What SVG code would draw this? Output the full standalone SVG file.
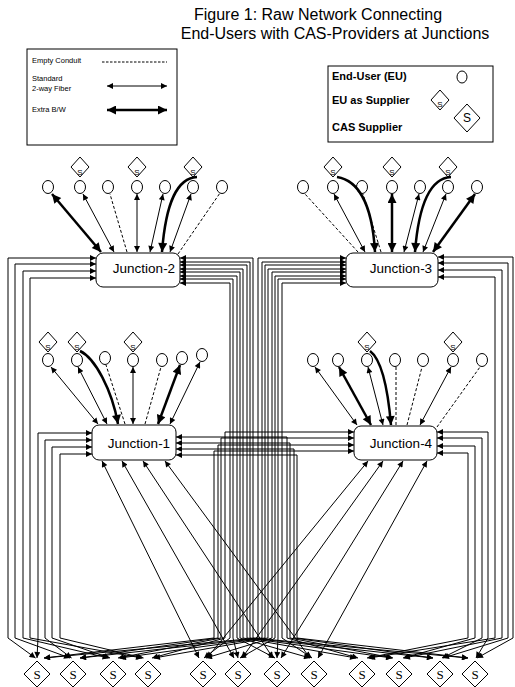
<svg xmlns="http://www.w3.org/2000/svg" width="515" height="687" viewBox="0 0 515 687">
<style>
.t{font-family:"Liberation Sans",Arial,sans-serif;fill:#000}
.nd{fill:#fff;stroke:#000;stroke-width:1}
.ln{fill:none;stroke:#000;stroke-width:1}
.b{marker-start:url(#a);marker-end:url(#a)}
.ds{stroke-dasharray:3 2}
.thk{stroke-width:2.5;marker-start:url(#A);marker-end:url(#A)}
.cur{stroke-width:2.5;marker-end:url(#A)}
.s8{font-size:8px}
.bs{font-family:"Liberation Serif","Times New Roman",serif;font-size:13px;text-anchor:middle}
.jt{font-size:13.5px;text-anchor:middle}
</style>
<defs>
<marker id="a" viewBox="0 0 10 10" refX="10" refY="5" markerWidth="7" markerHeight="6" markerUnits="userSpaceOnUse" orient="auto-start-reverse"><path d="M0,0 L10,5 L0,10 z"/></marker>
<marker id="A" viewBox="0 0 10 10" refX="10" refY="5" markerWidth="11" markerHeight="9" markerUnits="userSpaceOnUse" orient="auto-start-reverse"><path d="M0,0 L10,5 L0,10 z"/></marker>
<path id="sd" d="M0,-10 L9,0 L0,10 L-9,0 z"/>
<path id="bd" d="M0,-13 L13,0 L0,13 L-13,0 z"/>
</defs>

<g id="title">
<text class="t" x="318" y="20" font-size="16" text-anchor="middle">Figure 1:  Raw Network Connecting</text>
<text class="t" x="335" y="39" font-size="16" text-anchor="middle">End-Users with CAS-Providers at Junctions</text>
</g>

<g id="legend-lines">
<rect x="27" y="49" width="150" height="96" fill="none" stroke="#000"/>
<text class="t" x="32" y="63" font-size="7.5">Empty Conduit</text>
<path class="ln" d="M102,62 H167" stroke-dasharray="2.5 1.5"/>
<text class="t" x="32" y="81" font-size="7.5">Standard</text>
<text class="t" x="32" y="91" font-size="7.5">2-way Fiber</text>
<path class="ln b" d="M107,86 H167"/>
<text class="t" x="32" y="112" font-size="7.5">Extra B/W</text>
<path class="ln thk" d="M107,110 H167"/>
</g>

<g id="legend-nodes">
<rect x="328" y="66" width="165" height="76" fill="none" stroke="#000"/>
<text class="t" x="332" y="80" font-size="11" font-weight="bold">End-User (EU)</text>
<ellipse class="nd" cx="462" cy="77" rx="5" ry="6"/>
<text class="t" x="332" y="104" font-size="11" font-weight="bold">EU as Supplier</text>
<use href="#sd" x="440" y="100" class="nd"/>
<text class="t s8" x="440" y="107" text-anchor="middle">S</text>
<path class="nd" d="M467,104 L480,118 L467,132 L454,118 z"/>
<text class="t" x="467" y="122" font-size="12" text-anchor="middle">S</text>
<text class="t" x="332" y="131" font-size="11" font-weight="bold">CAS Supplier</text>
</g>

<g id="junction-2"><rect class="nd" x="96" y="253" width="84" height="34" rx="7"/><text class="t jt" x="144" y="273">Junction-2</text></g>
<g id="junction-3"><rect class="nd" x="346" y="253" width="92" height="34" rx="7"/><text class="t jt" x="401" y="273">Junction-3</text></g>
<g id="junction-1"><rect class="nd" x="92" y="425" width="84" height="35" rx="7"/><text class="t jt" x="139" y="448">Junction-1</text></g>
<g id="junction-4"><rect class="nd" x="354" y="426" width="83" height="34" rx="7"/><text class="t jt" x="401" y="448">Junction-4</text></g>

<g id="eu-j2">
<ellipse class="nd" cx="48" cy="187" rx="5.5" ry="6.5"/>
<ellipse class="nd" cx="80" cy="187" rx="5.5" ry="6.5"/>
<ellipse class="nd" cx="108" cy="187" rx="5.5" ry="6.5"/>
<ellipse class="nd" cx="137" cy="187" rx="5.5" ry="6.5"/>
<ellipse class="nd" cx="165" cy="187" rx="5.5" ry="6.5"/>
<ellipse class="nd" cx="193" cy="187" rx="5.5" ry="6.5"/>
<ellipse class="nd" cx="222" cy="187" rx="5.5" ry="6.5"/>
</g>
<g id="sup-j2">
<use href="#sd" x="80" y="167" class="nd"/><text class="t s8" x="80" y="175" text-anchor="middle">S</text>
<use href="#sd" x="137" y="167" class="nd"/><text class="t s8" x="137" y="175" text-anchor="middle">S</text>
<use href="#sd" x="193" y="167" class="nd"/><text class="t s8" x="193" y="175" text-anchor="middle">S</text>
</g>
<g id="eu-j3">
<ellipse class="nd" cx="303" cy="187" rx="5.5" ry="6.5"/>
<ellipse class="nd" cx="333" cy="187" rx="5.5" ry="6.5"/>
<ellipse class="nd" cx="362" cy="187" rx="5.5" ry="6.5"/>
<ellipse class="nd" cx="392" cy="187" rx="5.5" ry="6.5"/>
<ellipse class="nd" cx="420" cy="187" rx="5.5" ry="6.5"/>
<ellipse class="nd" cx="448" cy="187" rx="5.5" ry="6.5"/>
<ellipse class="nd" cx="477" cy="187" rx="5.5" ry="6.5"/>
</g>
<g id="sup-j3">
<use href="#sd" x="333" y="167" class="nd"/><text class="t s8" x="333" y="175" text-anchor="middle">S</text>
<use href="#sd" x="392" y="167" class="nd"/><text class="t s8" x="392" y="175" text-anchor="middle">S</text>
<use href="#sd" x="448" y="167" class="nd"/><text class="t s8" x="448" y="175" text-anchor="middle">S</text>
</g>
<g id="eu-j1">
<ellipse class="nd" cx="48" cy="360" rx="5.5" ry="6.5"/>
<ellipse class="nd" cx="77" cy="360" rx="5.5" ry="6.5"/>
<ellipse class="nd" cx="105" cy="358" rx="5.5" ry="6.5"/>
<ellipse class="nd" cx="133" cy="360" rx="5.5" ry="6.5"/>
<ellipse class="nd" cx="162" cy="360" rx="5.5" ry="6.5"/>
<ellipse class="nd" cx="182" cy="358" rx="5.5" ry="6.5"/>
<ellipse class="nd" cx="202" cy="355" rx="5.5" ry="6.5"/>
</g>
<g id="sup-j1">
<use href="#sd" x="48" y="342" class="nd"/><text class="t s8" x="48" y="350" text-anchor="middle">S</text>
<use href="#sd" x="77" y="342" class="nd"/><text class="t s8" x="77" y="350" text-anchor="middle">S</text>
<use href="#sd" x="133" y="342" class="nd"/><text class="t s8" x="133" y="350" text-anchor="middle">S</text>
</g>
<g id="eu-j4">
<ellipse class="nd" cx="313" cy="360" rx="5.5" ry="6.5"/>
<ellipse class="nd" cx="338" cy="360" rx="5.5" ry="6.5"/>
<ellipse class="nd" cx="367" cy="360" rx="5.5" ry="6.5"/>
<ellipse class="nd" cx="395" cy="360" rx="5.5" ry="6.5"/>
<ellipse class="nd" cx="423" cy="360" rx="5.5" ry="6.5"/>
<ellipse class="nd" cx="453" cy="360" rx="5.5" ry="6.5"/>
<ellipse class="nd" cx="482" cy="360" rx="5.5" ry="6.5"/>
</g>
<g id="sup-j4">
<use href="#sd" x="367" y="342" class="nd"/><text class="t s8" x="367" y="350" text-anchor="middle">S</text>
<use href="#sd" x="453" y="342" class="nd"/><text class="t s8" x="453" y="350" text-anchor="middle">S</text>
</g>

<g id="cas-suppliers">
<use href="#bd" x="37" y="674" class="nd"/><text class="bs" x="37" y="679">S</text>
<use href="#bd" x="73" y="674" class="nd"/><text class="bs" x="73" y="679">S</text>
<use href="#bd" x="113" y="674" class="nd"/><text class="bs" x="113" y="679">S</text>
<use href="#bd" x="148" y="674" class="nd"/><text class="bs" x="148" y="679">S</text>
<use href="#bd" x="203" y="674" class="nd"/><text class="bs" x="203" y="679">S</text>
<use href="#bd" x="238" y="674" class="nd"/><text class="bs" x="238" y="679">S</text>
<use href="#bd" x="277" y="674" class="nd"/><text class="bs" x="277" y="679">S</text>
<use href="#bd" x="314" y="674" class="nd"/><text class="bs" x="314" y="679">S</text>
<use href="#bd" x="362" y="674" class="nd"/><text class="bs" x="362" y="679">S</text>
<use href="#bd" x="399" y="674" class="nd"/><text class="bs" x="399" y="679">S</text>
<use href="#bd" x="440" y="674" class="nd"/><text class="bs" x="440" y="679">S</text>
<use href="#bd" x="475" y="674" class="nd"/><text class="bs" x="475" y="679">S</text>
</g>

<g id="connectors">
<path class="ln thk" d="M101,252 L52,194"/>
<path class="ln b" d="M114,252 L83,194"/>
<path class="ln ds" d="M127,252 L110,194"/>
<path class="ln b" d="M137,252 L137,194"/>
<path class="ln b" d="M150,252 L163,194"/>
<path class="ln cur" d="M197,177 C178,178 166,200 162,252"/>
<path class="ln b" d="M170,252 L191,194"/>
<path class="ln ds" d="M178,254 L220,193"/>

<path class="ln ds" d="M358,252 L305,194"/>
<path class="ln b" d="M365,252 L334,194"/>
<path class="ln cur" d="M337,177 C356,180 372,200 375,252"/>
<path class="ln ds" d="M381,252 L363,194"/>
<path class="ln thk" d="M392,252 L392,194"/>
<path class="ln b" d="M404,252 L419,194"/>
<path class="ln cur" d="M451,177 C432,178 419,200 415,252"/>
<path class="ln b" d="M423,252 L446,194"/>
<path class="ln thk" d="M433,252 L475,194"/>

<path class="ln b" d="M98,424 L51,367"/>
<path class="ln b" d="M107,424 L78,367"/>
<path class="ln cur" d="M80,351 C95,358 112,390 118,424"/>
<path class="ln ds" d="M125,424 L106,365"/>
<path class="ln b" d="M133,424 L133,367"/>
<path class="ln ds" d="M145,424 L161,367"/>
<path class="ln thk" d="M158,424 L180,365"/>
<path class="ln b" d="M170,424 L200,362"/>

<path class="ln b" d="M357,425 L315,367"/>
<path class="ln thk" d="M371,425 L339,367"/>
<path class="ln b" d="M383,425 L368,367"/>
<path class="ln cur" d="M370,351 C382,360 388,390 391,425"/>
<path class="ln ds" d="M396,425 L396,367"/>
<path class="ln ds" d="M407,425 L422,367"/>
<path class="ln b" d="M420,425 L451,367"/>
<path class="ln ds" d="M437,427 L480,367"/>

<path class="ln b" d="M96,258 H8 V638 L35.5,658"/>
<path class="ln b" d="M96,264 H15 V638 L70,658"/>
<path class="ln b" d="M96,271 H23 V638 L108.5,658"/>
<path class="ln b" d="M96,278 H30 V638 L142,658"/>
<path class="ln b" d="M92,433 H38 V638 L37,658"/>
<path class="ln b" d="M92,440 H45 V638 L71.5,658"/>
<path class="ln b" d="M92,447 H52 V638 L110,658"/>
<path class="ln b" d="M92,454 H60 V638 L143.5,658"/>
<path class="ln b" d="M354,432 H225 V638 L152,658"/>
<path class="ln b" d="M354,438 H221 V638 L118,658"/>
<path class="ln b" d="M354,445 H218 V638 L80,658"/>
<path class="ln b" d="M354,451 H214 V638 L44,658"/>
<path class="ln b" d="M180,283 H230 V638 L204,658"/>
<path class="ln b" d="M180,279 H233 V638 L238,658"/>
<path class="ln b" d="M180,276 H237 V638 L275,658"/>
<path class="ln b" d="M180,272 H240 V638 L310,658"/>
<path class="ln b" d="M180,269 H243 V638 L356,658"/>
<path class="ln b" d="M180,265 H247 V638 L392,658"/>
<path class="ln b" d="M180,262 H250 V638 L433,658"/>
<path class="ln b" d="M180,258 H253 V638 L468,658"/>
<path class="ln b" d="M346,258 H258 V638 L44,658"/>
<path class="ln b" d="M346,262 H262 V638 L80,658"/>
<path class="ln b" d="M346,265 H265 V638 L120,658"/>
<path class="ln b" d="M346,269 H268 V638 L154,658"/>
<path class="ln b" d="M346,272 H272 V638 L206,658"/>
<path class="ln b" d="M346,276 H275 V638 L240,658"/>
<path class="ln b" d="M346,279 H278 V638 L277,658"/>
<path class="ln b" d="M346,283 H282 V638 L312,658"/>
<path class="ln b" d="M176,437 H287 V638 L358,658"/>
<path class="ln b" d="M176,443 H290 V638 L393,658"/>
<path class="ln b" d="M176,449 H294 V638 L433,658"/>
<path class="ln b" d="M176,455 H297 V638 L468,658"/>
<path class="ln b" d="M437,432 H488 V638 L476,658"/>
<path class="ln b" d="M437,438 H482 V638 L442,658"/>
<path class="ln b" d="M437,446 H475 V638 L403,658"/>
<path class="ln b" d="M437,453 H468 V638 L367,658"/>
<path class="ln b" d="M438,257 H513 V638 L477,658"/>
<path class="ln b" d="M438,263 H508 V638 L443,658"/>
<path class="ln b" d="M438,270 H502 V638 L404,658"/>
<path class="ln b" d="M438,277 H495 V638 L369,658"/>
<path class="ln b" d="M102,461 L199,658"/>
<path class="ln b" d="M122,461 L234,658"/>
<path class="ln b" d="M143,461 L273,658"/>
<path class="ln b" d="M165,461 L310,658"/>
<path class="ln b" d="M368,461 L207,658"/>
<path class="ln b" d="M383,461 L242,658"/>
<path class="ln b" d="M403,461 L281,658"/>
<path class="ln b" d="M427,461 L318,658"/>
</g>
</svg>
